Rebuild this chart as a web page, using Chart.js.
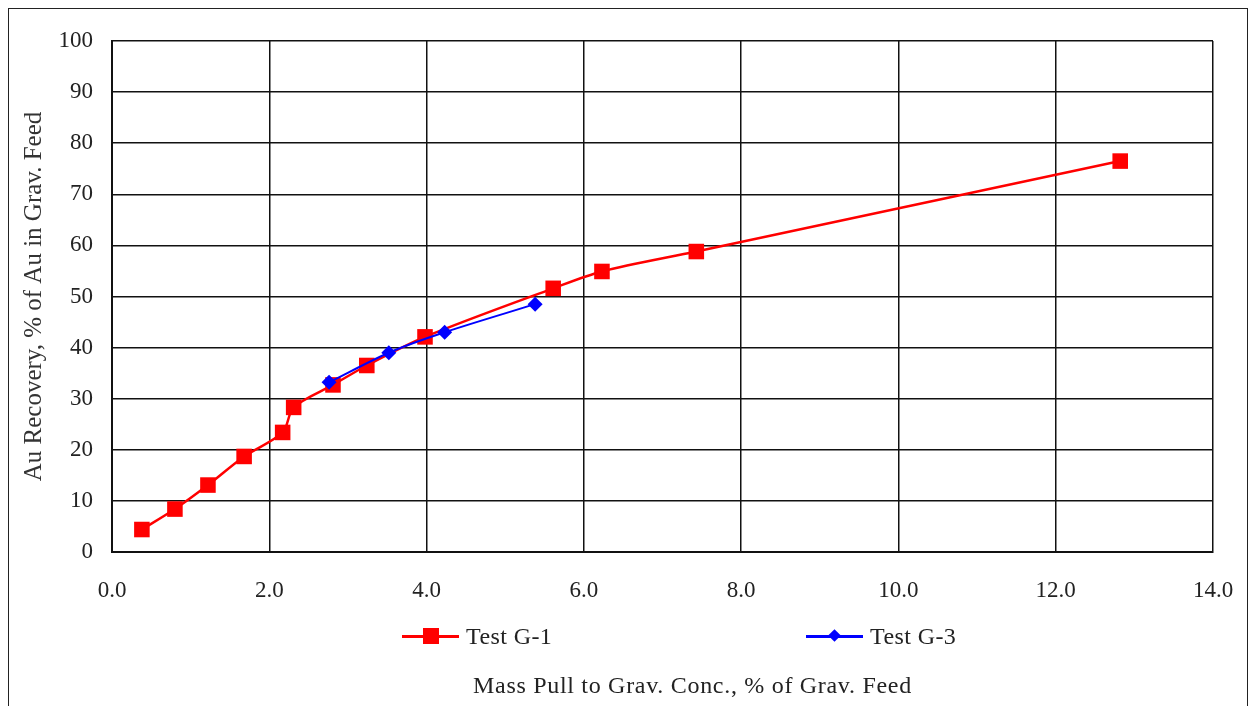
<!DOCTYPE html>
<html>
<head>
<meta charset="utf-8">
<script src="https://cdn.jsdelivr.net/npm/chart.js@4"></script>
<style>
  body { margin: 0; background: #fff; font-family: "Liberation Serif", "Times New Roman", serif; }
  #wrap { position: relative; width: 1250px; height: 706px; overflow: hidden; }
  #frame { position: absolute; left: 8px; top: 8px; width: 1240px; height: 720px; border: 1px solid #222; box-sizing: border-box; }
  #box { position: absolute; left: 0; top: 0; width: 1250px; height: 706px; }
  .leg { position: absolute; top: 624px; height: 24px; font-size: 24px; color: #222; line-height: 24px; }
  .leg .ln { position: absolute; top: 11px; height: 3px; width: 57px; }
  .leg .mk { position: absolute; }
  .leg .tx { position: absolute; top: 0; white-space: nowrap; letter-spacing: 0.4px; }
  #xtitle { position: absolute; top: 672px; left: 473px; font-size: 24px; color: #222; letter-spacing: 0.7px; white-space: nowrap; }
</style>
</head>
<body>
<div id="wrap">
  <div id="frame"></div>
  <div id="box"><canvas id="chart"></canvas></div>

  <div class="leg" style="left:402px">
    <span class="ln" style="left:0;background:#ff0000"></span>
    <span class="mk" style="left:21px;top:4px;width:16px;height:16px;background:#ff0000"></span>
    <span class="tx" style="left:64px">Test G-1</span>
  </div>
  <div class="leg" style="left:806px">
    <span class="ln" style="left:0;background:#0000ff"></span>
    <span class="mk" style="left:24px;top:7px;width:9px;height:9px;background:#0000ff;transform:rotate(45deg)"></span>
    <span class="tx" style="left:64px">Test G-3</span>
  </div>
  <div id="xtitle">Mass Pull to Grav. Conc., % of Grav. Feed</div>
</div>

<script>
// Test G-1 (red squares)
const g1Mass = [0.38, 0.80, 1.22, 1.68, 2.17, 2.31, 2.81, 3.24, 3.98, 5.61, 6.23, 7.43, 12.82];
const g1Rec  = [4.4, 8.4, 13.1, 18.7, 23.4, 28.3, 32.7, 36.5, 42.1, 51.6, 54.9, 58.8, 76.5];

// Test G-3 (blue diamonds)
const g3Mass = [2.76, 3.52, 4.23, 5.38];
const g3Rec  = [33.2, 39.0, 43.0, 48.5];

const xTicks = [0, 2, 4, 6, 8, 10, 12, 14];
const yTicks = [0, 10, 20, 30, 40, 50, 60, 70, 80, 90, 100];

const toPts = (xs, ys) => xs.map((x, i) => ({ x: x, y: ys[i] }));
const serif = '"Liberation Serif", "Times New Roman", serif';

new Chart(document.getElementById('chart'), {
  type: 'scatter',
  data: {
    datasets: [
      {
        label: 'Test G-3',
        data: toPts(g3Mass, g3Rec),
        showLine: true,
        borderColor: '#0000ff',
        backgroundColor: '#0000ff',
        borderWidth: 2,
        pointStyle: 'rectRot',
        pointRadius: 7.5,
        pointBorderWidth: 0,
        tension: 0.3,
      },
      {
        label: 'Test G-1',
        data: toPts(g1Mass, g1Rec),
        showLine: true,
        borderColor: '#ff0000',
        backgroundColor: '#ff0000',
        borderWidth: 2.5,
        pointStyle: 'rect',
        pointRadius: 11,
        pointBorderWidth: 0,
        tension: 0.3,
      },
    ],
  },
  options: {
    responsive: true,
    maintainAspectRatio: false,
    animation: false,
    layout: { padding: { left: 0, top: 41, right: 37, bottom: 0 } },
    plugins: {
      legend: { display: false },
      tooltip: { enabled: false },
    },
    scales: {
      x: {
        type: 'linear',
        min: 0,
        max: 14,
        afterBuildTicks: s => { s.ticks = xTicks.map(v => ({ value: v })); },
        afterFit: s => { s.height = 706 - 552; s.paddingLeft = 0; s.paddingRight = 0; },
        ticks: {
          padding: 25,
          color: '#222',
          font: { family: serif, size: 23 },
          callback: v => Number(v).toFixed(1),
        },
        grid: { color: '#111', lineWidth: 1.5, drawTicks: false },
        border: { display: true, color: '#111', width: 2 },
      },
      y: {
        type: 'linear',
        min: 0,
        max: 100,
        afterBuildTicks: s => { s.ticks = yTicks.map(v => ({ value: v })); },
        afterFit: s => { s.width = 112; s.paddingTop = 0; s.paddingBottom = 0; },
        ticks: {
          padding: 19,
          color: '#222',
          font: { family: serif, size: 23 },
        },
        grid: { color: '#111', lineWidth: 1.5, drawTicks: false },
        border: { display: true, color: '#111', width: 2 },
        title: {
          display: true,
          text: 'Au Recovery, % of Au in Grav. Feed',
          color: '#333',
          font: { family: serif, size: 25 },
          padding: { top: 19, bottom: 0 },
        },
      },
    },
  },
});
</script>
</body>
</html>
